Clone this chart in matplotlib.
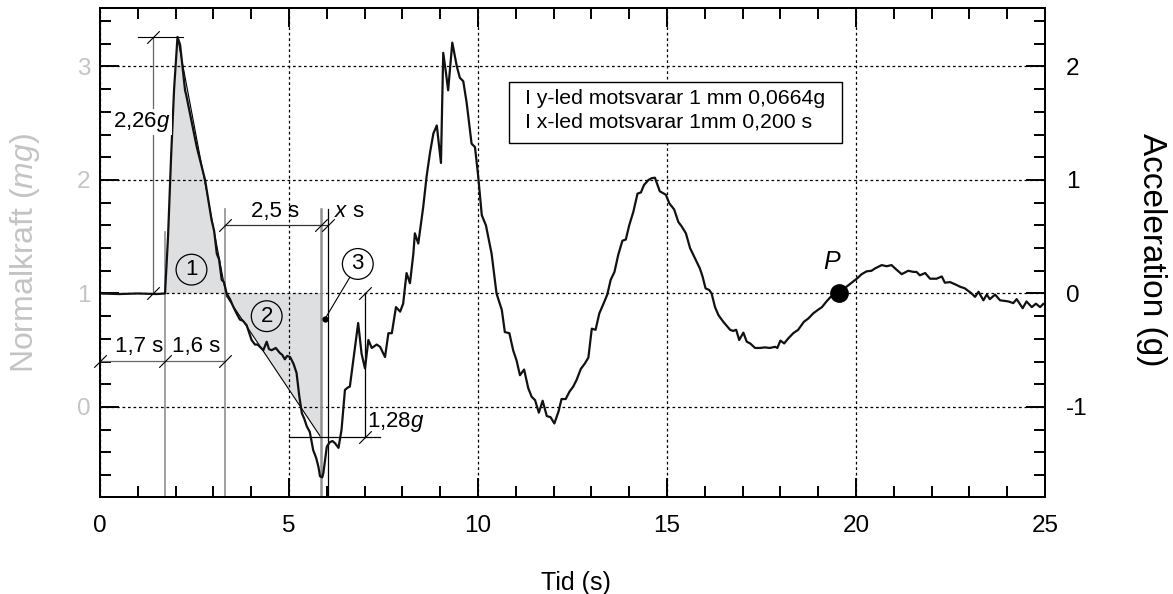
import matplotlib.pyplot as plt
from matplotlib.path import Path
from matplotlib.patches import Polygon, Rectangle
from matplotlib.ticker import MultipleLocator

plt.rcParams['font.family'] = ['Liberation Sans', 'DejaVu Sans']
plt.rcParams['mathtext.fontset'] = 'custom'
plt.rcParams['mathtext.rm'] = 'Liberation Sans'
plt.rcParams['mathtext.it'] = 'Liberation Sans:italic'
plt.rcParams['axes.unicode_minus'] = False

# measured curve: time (s) and normal force (mg)
tid = [0, 0.5, 1.0, 1.5, 1.72, 1.80, 1.88, 1.96, 2.05, 2.12, 2.25, 2.28, 2.42, 2.56,
       2.78, 2.95, 3.02, 3.09, 3.15, 3.22, 3.28, 3.35, 3.44, 3.53, 3.62, 3.70, 3.78,
       3.88, 3.95, 4.01, 4.10, 4.17, 4.23, 4.32, 4.41, 4.47, 4.54, 4.65, 4.76, 4.82,
       4.89, 4.95, 5.03, 5.12, 5.20, 5.27, 5.34, 5.40, 5.47, 5.55, 5.64, 5.72, 5.78,
       5.82, 5.88, 5.91, 5.96, 6.00, 6.08, 6.15, 6.22, 6.31, 6.39, 6.48, 6.55, 6.61,
       6.70, 6.83, 6.92, 7.01, 7.10, 7.19, 7.32, 7.41, 7.54, 7.63, 7.72, 7.83, 7.94,
       8.02, 8.11, 8.20, 8.29, 8.33, 8.42, 8.55, 8.64, 8.73, 8.82, 8.91, 9.02, 9.08,
       9.15, 9.21, 9.32, 9.44, 9.52, 9.61, 9.70, 9.83, 9.92, 10.0, 10.10, 10.21,
       10.36, 10.49, 10.63, 10.71, 10.83, 10.93, 11.02, 11.11, 11.22, 11.33, 11.42,
       11.51, 11.61, 11.71, 11.82, 11.92, 12.02, 12.13, 12.21, 12.32, 12.42, 12.52,
       12.61, 12.72, 12.83, 12.92, 13.01, 13.11, 13.21, 13.32, 13.42, 13.51, 13.61,
       13.71, 13.82, 13.91, 14.0, 14.11, 14.22, 14.31, 14.39, 14.51, 14.59, 14.68,
       14.81, 14.97, 15.06, 15.19, 15.30, 15.39, 15.50, 15.61, 15.74, 15.87, 15.94,
       16.02, 16.12, 16.18, 16.27, 16.36, 16.49, 16.67, 16.75, 16.83, 16.91, 17.02,
       17.11, 17.20, 17.33, 17.46, 17.59, 17.72, 17.86, 17.92, 18.0, 18.10, 18.21,
       18.34, 18.47, 18.62, 18.74, 18.87, 18.99, 19.10, 19.22, 19.33, 19.45, 19.56,
       19.75, 19.88, 20.02, 20.15, 20.28, 20.41, 20.50, 20.68, 20.81, 20.94, 21.07,
       21.21, 21.38, 21.52, 21.60, 21.69, 21.83, 21.96, 22.13, 22.27, 22.35, 22.49,
       22.66, 22.75, 22.88, 23.06, 23.15, 23.24, 23.37, 23.46, 23.54, 23.68, 23.81,
       24.03, 24.16, 24.25, 24.41, 24.51, 24.65, 24.76, 24.87, 24.96, 25.0]
normalkraft = [1.0, 0.995, 1.0, 0.995, 1.0, 1.5, 2.2, 2.8, 3.26, 3.19, 2.79, 2.75, 2.52, 2.29,
               2.0, 1.65, 1.55, 1.35, 1.30, 1.12, 1.10, 1.0, 0.95, 0.88, 0.82, 0.77, 0.76,
               0.72, 0.65, 0.59, 0.55, 0.55, 0.53, 0.50, 0.575, 0.51, 0.50, 0.52, 0.475, 0.46,
               0.42, 0.45, 0.44, 0.38, 0.30, 0.10, -0.055, -0.10, -0.17, -0.22, -0.38, -0.45, -0.53,
               -0.61, -0.62, -0.58, -0.45, -0.35, -0.31, -0.30, -0.32, -0.36, -0.20, 0.15, 0.17, 0.18,
               0.41, 0.74, 0.47, 0.34, 0.59, 0.52, 0.55, 0.53, 0.44, 0.65, 0.65, 0.88, 0.84,
               0.91, 1.18, 1.09, 1.35, 1.53, 1.44, 1.76, 2.03, 2.24, 2.41, 2.48, 2.15, 3.12,
               2.95, 2.79, 3.21, 3.0, 2.90, 2.87, 2.68, 2.32, 2.29, 2.05, 1.69, 1.60,
               1.35, 1.0, 0.855, 0.66, 0.65, 0.50, 0.41, 0.28, 0.33, 0.165, 0.09,
               0.06, -0.05, 0.055, -0.08, -0.09, -0.145, -0.04, 0.07, 0.07, 0.135, 0.18,
               0.24, 0.335, 0.385, 0.435, 0.69, 0.68, 0.825, 0.91, 0.99, 1.12, 1.19,
               1.34, 1.465, 1.475, 1.60, 1.72, 1.88, 1.89, 1.955, 2.0, 2.015, 2.02,
               1.90, 1.87, 1.795, 1.74, 1.63, 1.59, 1.53, 1.40, 1.31, 1.22, 1.15,
               1.045, 1.03, 1.0, 0.88, 0.81, 0.75, 0.68, 0.67, 0.68, 0.59, 0.655,
               0.575, 0.56, 0.52, 0.52, 0.525, 0.52, 0.53, 0.52, 0.585, 0.56, 0.605,
               0.65, 0.68, 0.75, 0.78, 0.825, 0.855, 0.88, 0.93, 0.97, 0.99, 1.01,
               1.06, 1.095, 1.13, 1.17, 1.195, 1.20, 1.22, 1.25, 1.24, 1.25, 1.21,
               1.17, 1.20, 1.19, 1.19, 1.16, 1.18, 1.13, 1.13, 1.15, 1.095, 1.10,
               1.075, 1.06, 1.045, 1.0, 0.97, 1.015, 0.94, 0.99, 0.95, 0.99, 0.94,
               0.93, 0.915, 0.95, 0.87, 0.93, 0.88, 0.91, 0.88, 0.91, 0.90]

# shaded areas (t, mg)
omrade1 = [(1.72, 1.0), (2.05, 3.26), (3.33, 1.0)]
omrade2 = [(3.30, 1.0), (5.84, 1.0), (5.84, -0.265)]
punkt_p = (19.56, 1.0)

fig = plt.figure(figsize=(11.73, 5.94), dpi=100)
ax = fig.add_axes([100 / 1173, 1 - 497 / 594, 945 / 1173, 489 / 594])
ax.set_xlim(0, 25)
ax.set_ylim(-0.793, 3.515)

ax.add_patch(Polygon(omrade1, closed=True, fc='#dedfe1', ec='none', zorder=0.3))
ax.add_patch(Polygon(omrade2, closed=True, fc='#dedfe1', ec='none', zorder=0.3))
ax.plot([omrade1[1][0], omrade1[2][0]], [omrade1[1][1], omrade1[2][1]], color='k', lw=0.8)
ax.plot([omrade2[0][0], omrade2[2][0]], [omrade2[0][1], omrade2[2][1]], color='k', lw=0.8)

ax.plot(tid, normalkraft, color='#111111', lw=1.6, zorder=3)

ax.grid(True, which='major', color='k', lw=0.9, linestyle=(0, (2.2, 2.2)))
ax.set_axisbelow(True)
ax.xaxis.set_major_locator(MultipleLocator(5))
ax.xaxis.set_minor_locator(MultipleLocator(1))
ax.yaxis.set_major_locator(MultipleLocator(1))
ax.yaxis.set_minor_locator(MultipleLocator(0.2))
ax.tick_params(which='both', direction='in', top=True, right=False, width=1.4, labelsize=17.5)
ax.tick_params(which='major', length=14)
ax.tick_params(which='minor', length=8)
ax.tick_params(axis='y', labelcolor='#c4c4c4', pad=7)
ax.tick_params(axis='x', pad=13)
for s in ax.spines.values():
    s.set_linewidth(1.4)

ax2 = ax.twinx()
ax2.set_ylim(-1.793, 2.515)
ax2.yaxis.set_major_locator(MultipleLocator(1))
ax2.yaxis.set_minor_locator(MultipleLocator(0.2))
ax2.tick_params(which='both', direction='in', width=1.4, labelsize=17.5, pad=15)
ax2.tick_params(which='major', length=14)
ax2.tick_params(which='minor', length=8)
for s in ax2.spines.values():
    s.set_linewidth(1.4)

# dimension lines
gra = '#909090'
ax.plot([1.73, 1.73], [-0.793, 1.54], color=gra, lw=1.2)
ax.plot([3.31, 3.31], [-0.793, 1.74], color=gra, lw=1.2)
ax.plot([5.84, 5.84], [-0.793, 1.74], color=gra, lw=1.8)
ax.plot([6.04, 6.04], [-0.793, 1.74], color='k', lw=0.9)
ax.plot([1.41, 1.41], [1.0, 3.26], color='#666666', lw=0.9)
ax.plot([1.0, 2.2], [3.26, 3.26], color='k', lw=0.8)
ax.plot([0, 3.31], [0.405, 0.405], color='#666666', lw=0.9)
ax.plot([3.31, 6.04], [1.60, 1.60], color='#333333', lw=0.9)
ax.plot([5.0, 7.41], [-0.265, -0.265], color='k', lw=0.9)
ax.plot([7.02, 7.02], [-0.265, 1.0], color='k', lw=0.9)

slash = Path([(-1, -1), (1, 1)], [Path.MOVETO, Path.LINETO])
sx = [1.41, 1.41, 0, 1.73, 3.31, 3.31, 5.84, 6.04, 7.02, 7.02]
sy = [3.26, 1.0, 0.405, 0.405, 0.405, 1.60, 1.60, 1.60, 1.0, -0.265]
ax.plot(sx, sy, ls='none', marker=slash, ms=9, mec='k', mew=0.8, mfc='none', clip_on=False, zorder=4)

fs = 16
ax.text(1.11, 2.51, '2,26$\\it{g}$', fontsize=fs, ha='center', va='center',
        bbox=dict(fc='white', ec='none', pad=1))
ax.text(1.03, 0.53, '1,7 s', fontsize=fs, ha='center', va='center')
ax.text(2.54, 0.53, '1,6 s', fontsize=fs, ha='center', va='center')
ax.text(4.63, 1.72, '2,5 s', fontsize=fs, ha='center', va='center')
ax.text(6.59, 1.72, '$\\it{x}$ s', fontsize=fs, ha='center', va='center')
ax.text(7.06, -0.13, '1,28$\\it{g}$', fontsize=fs, ha='left', va='center')

circ = dict(boxstyle='circle,pad=0.22', fc='none', ec='k', lw=0.9)
ax.text(2.42, 1.21, '1', fontsize=fs, ha='center', va='center', bbox=circ)
ax.text(4.41, 0.80, '2', fontsize=fs, ha='center', va='center', bbox=circ)
ax.annotate('3', xy=(5.95, 0.775), xytext=(6.82, 1.26), fontsize=fs, ha='center', va='center',
            bbox=circ, arrowprops=dict(arrowstyle='-', lw=0.8, shrinkA=0, shrinkB=0))
ax.plot([5.95], [0.775], 'o', color='k', ms=3.5, zorder=5)

ax.plot([punkt_p[0]], [punkt_p[1]], 'o', color='k', ms=12.5, zorder=5)
ax.text(19.36, 1.28, '$\\it{P}$', fontsize=18, ha='center', va='center')

# scale info box
ax.add_patch(Rectangle((10.82, 2.33), 8.81, 0.53, fc='white', ec='k', lw=1.0, zorder=4))
ax.text(11.24, 2.72, 'I y-led motsvarar 1 mm 0,0664g', fontsize=15.3, va='center', zorder=5)
ax.text(11.24, 2.51, 'I x-led motsvarar 1mm 0,200 s', fontsize=15.3, va='center', zorder=5)

fig.text(25 / 1173, 1 - 253 / 594, 'Normalkraft ($\\it{mg}$)', rotation=90, fontsize=23,
         color='#c4c4c4', ha='center', va='center')
fig.text(1152 / 1173, 1 - 250 / 594, 'Acceleration (g)', rotation=270, fontsize=24,
         ha='center', va='center')
fig.text(576 / 1173, 1 - 583 / 594, 'Tid (s)', fontsize=18, ha='center', va='center')

fig.savefig('out.png', dpi=100)
